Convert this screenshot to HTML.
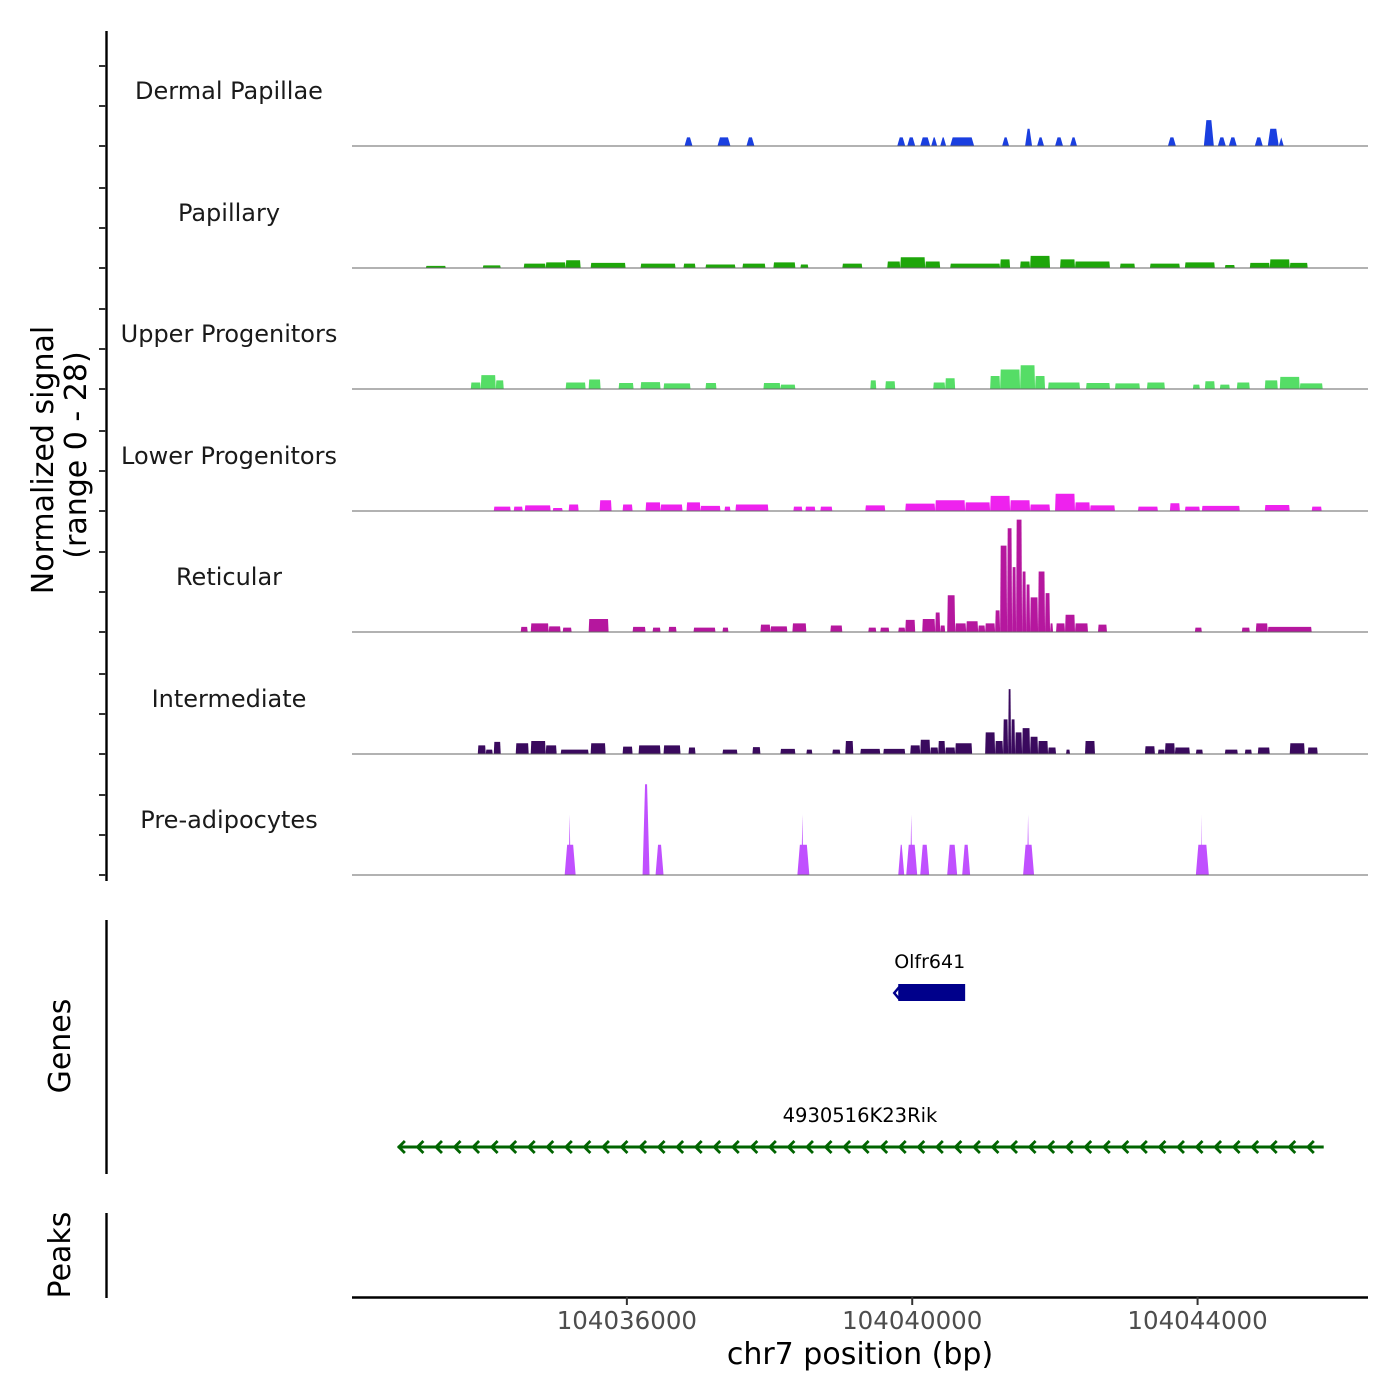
<!DOCTYPE html>
<html><head><meta charset="utf-8"><style>
html,body{margin:0;padding:0;background:#fff;}
svg{display:block;font-family:"DejaVu Sans","Liberation Sans",sans-serif;}
</style></head><body>
<svg id="chart" width="1400" height="1400" viewBox="0 0 1400 1400" xmlns="http://www.w3.org/2000/svg">
<g id="tracks"></g>
<g id="axes"></g>
<g id="genes"></g>
</svg>
<script>
// region reference: positions stored as bp offsets from 104040000
const refBp = 104040000;
const trackNames = ["Dermal Papillae","Papillary","Upper Progenitors","Lower Progenitors","Reticular","Intermediate","Pre-adipocytes"];
const trackColors = ["#1a3fe0","#1ea60a","#55dd66","#ee22ee","#b5179e","#3a0a5e","#c050ff"];
const xTicks = [104036000, 104040000, 104044000];
const xTickLabels = ["104036000","104040000","104044000"];
const yMax = 28;

// each track: [startOffsetBp, endOffsetBp, value]
const dermalSegs = [[-3192,-3080,2],[-2730,-2548,2],[-2324,-2212,2],[-210,-98,2],[-70,42,2],[112,252,2],[266,350,2],[392,476,2],[532,868,2],[1260,1358,2],[1582,1680,4],[1750,1848,2],[2002,2114,2],[2212,2310,2],[3584,3696,2],[4088,4228,6],[4284,4396,2],[4438,4550,2],[4802,4914,2],[4984,5138,4],[5138,5208,2]];
const papillarySegs = [[-6818,-6538,0.5],[-6020,-5768,0.6],[-5446,-5138,1],[-5138,-4858,1.3],[-4858,-4648,1.8],[-4508,-4018,1.2],[-3808,-3318,1],[-3206,-3038,1],[-2898,-2478,0.8],[-2380,-2058,1],[-1946,-1638,1.3],[-1568,-1456,0.8],[-980,-700,1],[-350,-168,1.5],[-168,182,2.5],[182,392,1.5],[532,1232,1],[1232,1372,2],[1512,1652,1.5],[1652,1932,2.8],[2072,2282,2],[2282,2772,1.5],[2912,3122,1],[3332,3752,1],[3822,4242,1.3],[4382,4522,0.7],[4732,5012,1.2],[5012,5292,2],[5292,5544,1.2]];
const upperSegs = [[-6188,-6048,1.5],[-6048,-5838,3.2],[-5838,-5726,2],[-4858,-4578,1.5],[-4536,-4368,2.2],[-4116,-3906,1.4],[-3808,-3528,1.6],[-3486,-3108,1.3],[-2898,-2744,1.4],[-2086,-1848,1.4],[-1848,-1638,1],[-588,-504,2],[-378,-238,1.8],[294,462,1.5],[462,602,2.5],[1092,1232,3],[1232,1512,4.5],[1512,1722,5.5],[1722,1862,3],[1904,2352,1.5],[2436,2772,1.4],[2842,3192,1.3],[3290,3542,1.5],[3934,4032,1],[4102,4242,1.8],[4312,4452,1],[4550,4732,1.5],[4942,5124,2],[5152,5432,2.8],[5432,5754,1.3]];
const lowerSegs = [[-5866,-5628,1],[-5586,-5460,1],[-5432,-5068,1.3],[-5040,-4900,0.7],[-4816,-4676,1.5],[-4382,-4214,2.5],[-4060,-3920,1.5],[-3738,-3528,2],[-3528,-3220,1.5],[-3164,-2968,2],[-2968,-2688,1.2],[-2632,-2548,1],[-2478,-2016,1.5],[-1666,-1540,1],[-1498,-1358,1],[-1288,-1120,1],[-658,-378,1.3],[-98,322,1.7],[322,742,2.5],[742,1092,2],[1092,1372,3.5],[1372,1652,2.5],[1652,1932,1.5],[2002,2282,4],[2282,2492,2],[2492,2842,1.3],[3164,3444,1],[3612,3752,1.8],[3822,4032,1],[4060,4592,1.2],[4942,5292,1.4],[5600,5740,1]];
const reticularSegs = [[-5488,-5390,1.2],[-5348,-5096,2],[-5096,-4928,1.3],[-4900,-4774,1],[-4536,-4256,3],[-3920,-3738,1.2],[-3640,-3528,1],[-3416,-3304,1.2],[-3066,-2758,1],[-2660,-2576,1],[-2128,-1988,1.7],[-1988,-1750,1.3],[-1680,-1484,2],[-1148,-980,1.5],[-616,-504,1],[-448,-322,1],[-196,-98,1],[-98,42,2.8],[140,322,3],[322,392,4.5],[392,462,1.5],[490,602,8.5],[602,756,2],[756,924,2.5],[924,1022,1.5],[1022,1162,2],[1162,1232,5],[1232,1330,20],[1330,1400,24],[1400,1456,15],[1456,1540,26],[1540,1596,14],[1596,1652,11],[1652,1764,8],[1764,1862,14],[1862,1932,9],[1932,1974,2],[2016,2142,2],[2142,2282,4],[2282,2464,2],[2604,2730,1.7],[3962,4060,1],[4620,4732,1],[4816,4984,2],[4984,5600,1.2]];
const intermediateSegs = [[-6090,-5978,2],[-5978,-5880,1],[-5866,-5768,2.8],[-5558,-5376,2.5],[-5348,-5138,3],[-5138,-4984,2],[-4928,-4536,1],[-4508,-4298,2.5],[-4060,-3920,1.7],[-3836,-3528,2],[-3486,-3248,2],[-3136,-3038,1.5],[-2660,-2450,1],[-2240,-2128,1.6],[-1848,-1638,1.2],[-1484,-1400,1],[-1120,-1008,1],[-938,-826,3],[-728,-448,1.2],[-406,-98,1.2],[-28,112,2],[112,252,3.3],[252,364,1.5],[364,462,3],[462,602,1.5],[602,840,2.5],[1022,1162,5],[1162,1274,3],[1274,1344,8],[1344,1386,15],[1386,1442,8],[1442,1540,5],[1540,1652,6],[1652,1764,4],[1764,1904,3],[1904,2016,1.5],[2156,2212,1],[2422,2562,3],[3262,3402,1.8],[3444,3542,1],[3542,3682,2.5],[3682,3892,1.5],[3976,4074,1],[4382,4564,1],[4662,4760,1],[4844,5012,1.5],[5292,5502,2.5],[5544,5684,1.5]];
const preadipSegs = [[-4872,-4718,7],[-4816,-4788,14],[-3780,-3682,21],[-3598,-3486,7],[-1610,-1442,7],[-1554,-1526,14],[-196,-112,7],[-84,70,7],[-28,0,14],[112,238,7],[490,630,7],[700,812,7],[1554,1708,7],[1610,1638,14],[3976,4158,7],[4046,4060,14]];
const allSegs = [dermalSegs,papillarySegs,upperSegs,lowerSegs,reticularSegs,intermediateSegs,preadipSegs];

// genes
const geneNames = ["Olfr641","4930516K23Rik"];
const geneStart = [-196, -7210];
const geneEnd = [742, 5768];

const NS = "http://www.w3.org/2000/svg";
const X0 = 352, X1 = 1368;
const bpLeft = 104032147, bpRight = 104046389;
function xScale(bp){ return X0 + (bp - bpLeft) / (bpRight - bpLeft) * (X1 - X0); }
function xOff(off){ return xScale(refBp + off); }
const baselines = [146,268,389,511,632,754,875];
const trackH = 121;
function yScale(v, base){ return base - v / yMax * trackH; }
function mk(tag, attrs, parent){ const e = document.createElementNS(NS, tag); for (const k in attrs) e.setAttribute(k, attrs[k]); parent.appendChild(e); return e; }

const gT = document.getElementById('tracks');
const gA = document.getElementById('axes');
const gG = document.getElementById('genes');

allSegs.forEach((segs, ti) => {
  const base = baselines[ti];
  const g = mk('g', {}, gT);
  
  
  const lbl = mk('text', {x:229, y:base-47, 'text-anchor':'middle', 'font-size':24, fill:'#1a1a1a'}, g);
  lbl.textContent = trackNames[ti];
  
  
  const ramp = (ti === 0 || ti === 6) ? 2.5 : 0.6;
  segs.forEach(s => {
    const xa = xOff(s[0]), xb = xOff(s[1]), yt = yScale(s[2], base);
    const r = Math.min(ramp, (xb - xa) / 2);
    const p = mk('polygon', {points: `${xa},${base} ${xa+r},${yt} ${xb-r},${yt} ${xb},${base}`, fill: trackColors[ti]}, g);
    
    
  });
  const bl = mk('line', {x1:X0, x2:X1, y1:base, y2:base, stroke:'#666', 'stroke-width':1}, g);
  
  
});

// left y axis for signal
const ya = mk('line', {x1:106.5, x2:106.5, y1:31, y2:881, stroke:'#000', 'stroke-width':2.4}, gA);


baselines.forEach(b => {
  [0, 40, 80].forEach(d => {
    const t = mk('line', {x1:99, x2:106, y1:b-d, y2:b-d, stroke:'#333', 'stroke-width':2}, gA);
    
    
  });
});
const yt1 = mk('text', {transform:'translate(53,460) rotate(-90)', 'text-anchor':'middle', 'font-size':30, fill:'#000'}, gA);
yt1.textContent = 'Normalized signal';


const yt2 = mk('text', {transform:'translate(86,455) rotate(-90)', 'text-anchor':'middle', 'font-size':30, fill:'#000'}, gA);
yt2.textContent = '(range 0 - 28)';



// genes axis & peaks axis
const ga = mk('line', {x1:106.5, x2:106.5, y1:920, y2:1174, stroke:'#000', 'stroke-width':2.4}, gA);


const gl = mk('text', {transform:'translate(70,1046) rotate(-90)', 'text-anchor':'middle', 'font-size':30, fill:'#000'}, gA);
gl.textContent = 'Genes';


const pa = mk('line', {x1:106.5, x2:106.5, y1:1213, y2:1298, stroke:'#000', 'stroke-width':2.4}, gA);


const pl = mk('text', {transform:'translate(70,1255) rotate(-90)', 'text-anchor':'middle', 'font-size':30, fill:'#000'}, gA);
pl.textContent = 'Peaks';



// x axis
const xa = mk('line', {x1:X0, x2:X1, y1:1297.5, y2:1297.5, stroke:'#000', 'stroke-width':2.4}, gA);


xTicks.forEach((v, i) => {
  const x = xScale(v);
  const t = mk('line', {x1:x, x2:x, y1:1297, y2:1305, stroke:'#333', 'stroke-width':2}, gA);
  
  
  const l = mk('text', {x:x, y:1329, 'text-anchor':'middle', 'font-size':24.5, fill:'#4d4d4d'}, gA);
  l.textContent = xTickLabels[i];
  
  
});
const xt = mk('text', {x:860, y:1364, 'text-anchor':'middle', 'font-size':30, fill:'#000'}, gA);
xt.textContent = 'chr7 position (bp)';



// gene 1: Olfr641 (box)
{
  const xa1 = xOff(geneStart[0]), xb1 = xOff(geneEnd[0]);
  const g = mk('g', {}, gG);
  
  
  const r = mk('rect', {x:xa1, y:984, width:xb1-xa1, height:17, fill:'#00008b'}, g);
  
  
  const c = mk('polyline', {points:`${xa1+1},987 ${xa1-4},993 ${xa1+1},999`, fill:'none', stroke:'#00008b', 'stroke-width':2.5}, g);
  
  
  const t = mk('text', {x:(xa1+xb1)/2-2, y:968, 'text-anchor':'middle', 'font-size':19, fill:'#000'}, g);
  t.textContent = geneNames[0];
  
  
}
// gene 2: 4930516K23Rik (line with chevrons)
{
  const xa2 = xOff(geneStart[1]), xb2 = xOff(geneEnd[1]);
  const g = mk('g', {}, gG);
  
  
  const ln = mk('line', {x1:xa2, x2:xb2, y1:1147, y2:1147, stroke:'#006400', 'stroke-width':3}, g);
  
  
  let d = '';
  for (let x = xa2 + 1; x < xb2 - 8; x += 18.55) d += `M${x+6},1141 L${x},1147 L${x+6},1153 `;
  const ch = mk('path', {d:d, fill:'none', stroke:'#006400', 'stroke-width':2.8}, g);
  
  
  const t = mk('text', {x:860, y:1122, 'text-anchor':'middle', 'font-size':19.5, fill:'#000'}, g);
  t.textContent = geneNames[1];
  
  
}
</script>
</body></html>
